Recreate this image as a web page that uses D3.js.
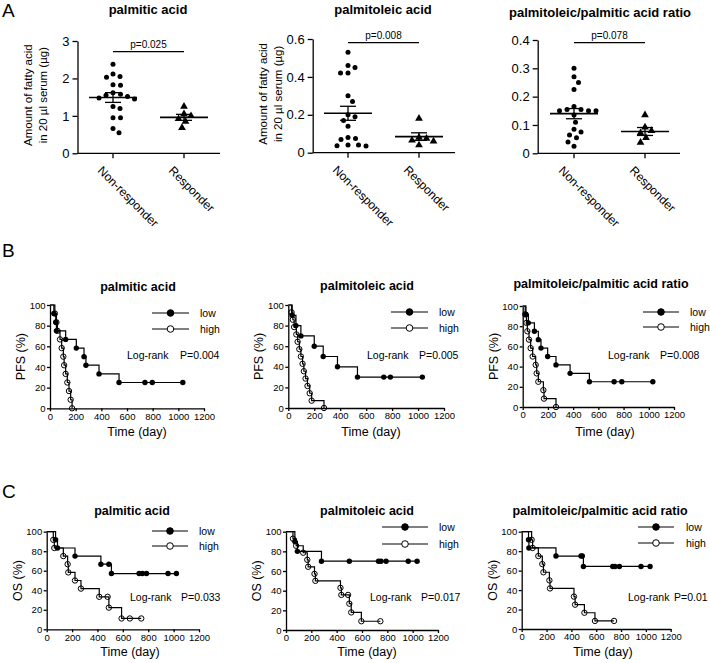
<!DOCTYPE html>
<html>
<head>
<meta charset="utf-8">
<script src="https://cdn.jsdelivr.net/npm/d3@7"></script>
<style>
  body { margin: 0; background: #fff; }
  text { font-family: "Liberation Sans", Arial, sans-serif; fill: #000; }
</style>
</head>
<body>
<div id="fig"></div>
<script>
// ---------- panel A data ----------
const titles = ["palmitic acid", "palmitoleic acid", "palmitoleic/palmitic acid ratio"];
const groups = ["Non-responder", "Responder"];
const nonResponder = [
  [2.38, 2.12, 2.05, 2.03, 1.83, 1.82, 1.62, 1.58, 1.55, 1.52, 1.48, 1.45, 1.25, 1.2, 0.95, 0.95, 0.66, 0.55],
  [0.53, 0.46, 0.45, 0.42, 0.42, 0.30, 0.27, 0.20, 0.19, 0.17, 0.14, 0.08, 0.075, 0.07, 0.04, 0.037, 0.035, 0.04],
  [0.30, 0.27, 0.25, 0.225, 0.165, 0.155, 0.155, 0.15, 0.15, 0.15, 0.135, 0.11, 0.085, 0.075, 0.065, 0.055, 0.04, 0.025]
];
const responder = [
  [1.25, 1.05, 1.0, 0.92, 0.85, 0.68],
  [0.18, 0.08, 0.075, 0.065, 0.06, 0.04],
  [0.135, 0.092, 0.08, 0.072, 0.055, 0.038]
];
const groupMean = [[1.49, 0.96], [0.208, 0.085], [0.14, 0.077]];
const groupSem = [[0.13, 0.08], [0.037, 0.02], [0.018, 0.014]];
const pText = ["p=0.025", "p=0.008", "p=0.078"];
const yMaxA = [3, 0.6, 0.4];
const yTicksA = [[0, 1, 2, 3], [0, 0.2, 0.4, 0.6], [0, 0.1, 0.2, 0.3, 0.4]];

// ---------- panels B / C data: [day, % surviving] ----------
const timeTicks = [0, 200, 400, 600, 800, 1000, 1200];
const pctTicks = [0, 20, 40, 60, 80, 100];
const pfsLow = [
  [[0,100],[30,91.7],[45,83.3],[50,75],[122,66.7],[205,58.3],[265,50],[280,41.7],[382,33.3],[538,25],[740,25],[797,25],[1035,25]],
  [[0,100],[30,90],[59,80],[97,70],[200,60],[269,50],[379,40],[533,30],[736,30],[787,30],[1033,30]],
  [[0,100],[26,91.7],[45,83.3],[93,75],[124,66.7],[145,58.3],[198,50],[264,41.7],[376,33.3],[529,25],[725,25],[786,25],[1032,25]]
];
const pfsHigh = [
  [[0,100],[38,91.7],[50,83.3],[58,75],[78,66.7],[91,58.3],[104,50],[110,41.7],[122,33.3],[135,25],[148,16.7],[161,8.3],[172,0]],
  [[0,100],[25,92.9],[35,85.7],[45,78.6],[62,71.4],[72,64.3],[85,57.1],[97,50],[110,42.9],[120,35.7],[133,28.6],[148,21.4],[165,14.3],[180,7.1],[275,0]],
  [[0,100],[20,91.7],[30,83.3],[37,75],[50,66.7],[63,58.3],[79,50],[103,41.7],[111,33.3],[124,25],[164,16.7],[169,8.3],[264,0]]
];
const osLow = [
  [[0,100],[70,91.7],[85,83.3],[223,75],[427,66.7],[490,66.7],[510,57.1],[728,57.1],[754,57.1],[786,57.1],[956,57.1],[1022,57.1]],
  [[0,100],[70,90],[90,80],[280,70],[500,70],[730,70],[750,70],[790,70],[965,70],[1035,70]],
  [[0,100],[55,91.7],[58,83.3],[276,75],[478,75],[488,75],[497,64.3],[733,64.3],[752,64.3],[787,64.3],[961,64.3],[1034,64.3]]
];
const osHigh = [
  [[0,100],[52,91.7],[60,83.3],[131,75],[165,66.7],[170,58.3],[223,50],[270,41.7],[414,33.3],[480,33.3],[490,22.2],[590,11.1],[655,11.1],[745,11.1]],
  [[0,100],[55,92.9],[80,85.7],[136,78.6],[168,71.4],[175,64.3],[225,57.1],[232,50],[430,42.9],[437,35.7],[490,35.7],[500,26.8],[515,17.9],[595,8.9],[745,8.9]],
  [[0,100],[80,91.7],[88,83.3],[134,75],[166,66.7],[175,58.3],[223,50],[228,41.7],[421,33.3],[430,25],[505,16.7],[590,8.3],[744,8.3]]
];
const pfsP = ["P=0.004", "P=0.005", "P=0.008"];
const osP = ["P=0.033", "P=0.017", "P=0.01"];
const legendLabels = ["low", "high"];

// ---------- layout ----------
const scatterLayout = [
  { ax: 77.5, y0: 153.3, y1: 41, c1: 113, c2: 184, xEnd: 220, tx: 148, ty: 14, barY: 51.7 },
  { ax: 312.7, y0: 152.7, y1: 39, c1: 348, c2: 419, xEnd: 455, tx: 383, ty: 14, barY: 42.7 },
  { ax: 537.7, y0: 153.3, y1: 40, c1: 574, c2: 645, xEnd: 680, tx: 600, ty: 17, barY: 42.7 }
];
const pfsLayout = [
  { ax: 50, y0: 408.3, y100: 305, x1200: 204, tx: 138, ty: 291, lx1: 152, lx2: 189, rows: [313, 329], lab: 200, lrX: 127, pX: 180, lrY: 359, timeX: 137, timeY: 436 },
  { ax: 288.3, y0: 408, y100: 305, x1200: 444, tx: 367, ty: 290, lx1: 391, lx2: 428, rows: [312, 328], lab: 439, lrX: 367, pX: 419, lrY: 359, timeX: 371, timeY: 436 },
  { ax: 522.7, y0: 407, y100: 306, x1200: 674, tx: 601, ty: 288, lx1: 643, lx2: 679, rows: [312, 327], lab: 690, lrX: 608, pX: 660, lrY: 359, timeX: 605, timeY: 436 }
];
const osLayout = [
  { ax: 46.7, y0: 629.3, y100: 531.7, x1200: 199, tx: 132, ty: 515, lx1: 152, lx2: 188, rows: [531, 546], lab: 199, lrX: 130, pX: 181, lrY: 601, timeX: 130, timeY: 656 },
  { ax: 286, y0: 630, y100: 531.7, x1200: 438, tx: 367, ty: 515, lx1: 382, lx2: 428, rows: [527, 544], lab: 439, lrX: 370, pX: 421, lrY: 601, timeX: 367, timeY: 656 },
  { ax: 521.7, y0: 629, y100: 531.7, x1200: 670.7, tx: 600, ty: 515, lx1: 638, lx2: 674, rows: [527, 543], lab: 686, lrX: 628, pX: 674, lrY: 601, timeX: 603, timeY: 656 }
];

const svg = d3.select("#fig").append("svg")
  .attr("width", 710).attr("height", 663);

// panel letters
[["A", 17], ["B", 257], ["C", 498]].forEach(([l, y]) => {
  svg.append("text").attr("x", 2).attr("y", y).attr("font-size", 19).text(l);
});

function styleAxis(g, fs) {
  g.selectAll("path, line").attr("stroke", "#000").attr("stroke-width", 1.3);
  g.selectAll("text").attr("font-size", fs).attr("fill", "#000")
    .style("font-family", '"Liberation Sans", Arial, sans-serif');
}

// simple beeswarm offsets so that dots don't overlap
function swarm(values, y, r) {
  const placed = [];
  const out = values.map(() => 0);
  const order = values.map((v, i) => i).sort((a, b) => values[b] - values[a]);
  order.forEach(i => {
    const py = y(values[i]);
    let dx = 0;
    for (let k = 0; k < 200; k++) {
      const cand = (k % 2 ? 1 : -1) * Math.ceil(k / 2) * 0.5;
      const ok = placed.every(p => (p.x - cand) ** 2 + (p.y - py) ** 2 >= (2 * r + 2.2) ** 2);
      if (ok) { dx = cand; break; }
    }
    placed.push({ x: dx, y: py });
    out[i] = dx;
  });
  return out;
}

// ---------- panel A ----------
scatterLayout.forEach((L, i) => {
  const g = svg.append("g");
  const y = d3.scaleLinear().domain([0, yMaxA[i]]).range([L.y0, L.y1]);
  const x = d3.scalePoint().domain(groups).range([L.c1, L.c2]);

  const yAx = g.append("g").attr("transform", `translate(${L.ax},0)`)
    .call(d3.axisLeft(y).tickValues(yTicksA[i]).tickSize(5).tickSizeOuter(0).tickPadding(3).tickFormat(d => d));
  styleAxis(yAx, 13);

  g.append("line").attr("x1", L.ax).attr("x2", L.xEnd).attr("y1", L.y0).attr("y2", L.y0)
    .attr("stroke", "#000").attr("stroke-width", 1.3);
  groups.forEach(c => {
    g.append("line").attr("x1", x(c)).attr("x2", x(c)).attr("y1", L.y0).attr("y2", L.y0 + 5)
      .attr("stroke", "#000").attr("stroke-width", 1.3);
    g.append("text")
      .attr("transform", `translate(${x(c) - 16},${L.y0 + 18}) rotate(45)`)
      .attr("font-size", 12).text(c);
  });

  g.append("text").attr("x", L.tx).attr("y", L.ty).attr("text-anchor", "middle")
    .attr("font-size", 13).attr("font-weight", "bold").text(titles[i]);

  if (i < 2) {
    const cy = (L.y0 + L.y1) / 2 - 2;
    g.append("text").attr("transform", `translate(${L.ax - 46},${cy}) rotate(-90)`)
      .attr("text-anchor", "middle").attr("font-size", 11.5).text("Amount of fatty acid");
    g.append("text").attr("transform", `translate(${L.ax - 31},${cy}) rotate(-90)`)
      .attr("text-anchor", "middle").attr("font-size", 11.5).text("in 20 µl serum (µg)");
  }

  // points
  const r = 2.5;
  const offN = swarm(nonResponder[i], y, r);
  g.selectAll(".nr").data(nonResponder[i]).enter().append("circle")
    .attr("cx", (d, j) => x(groups[0]) + offN[j]).attr("cy", d => y(d)).attr("r", r).attr("fill", "#000");
  const offR = swarm(responder[i], y, r);
  const tri = d3.symbol().type(d3.symbolTriangle).size(26);
  g.selectAll(".rs").data(responder[i]).enter().append("path")
    .attr("d", tri)
    .attr("transform", (d, j) => `translate(${x(groups[1]) + offR[j]},${y(d)})`)
    .attr("fill", "#000");

  // mean +/- SEM
  groups.forEach((c, k) => {
    const m = groupMean[i][k], s = groupSem[i][k], cx = x(c);
    g.append("line").attr("x1", cx - 24).attr("x2", cx + 24).attr("y1", y(m)).attr("y2", y(m))
      .attr("stroke", "#000").attr("stroke-width", 1.6);
    g.append("line").attr("x1", cx).attr("x2", cx).attr("y1", y(m - s)).attr("y2", y(m + s))
      .attr("stroke", "#000").attr("stroke-width", 1.3);
    [m - s, m + s].forEach(v => {
      g.append("line").attr("x1", cx - 8).attr("x2", cx + 8).attr("y1", y(v)).attr("y2", y(v))
        .attr("stroke", "#000").attr("stroke-width", 1.3);
    });
  });

  // significance bar
  g.append("line").attr("x1", L.c1).attr("x2", L.c2).attr("y1", L.barY).attr("y2", L.barY)
    .attr("stroke", "#000").attr("stroke-width", 1.2);
  g.append("text").attr("x", (L.c1 + L.c2) / 2).attr("y", L.barY - 4).attr("text-anchor", "middle")
    .attr("font-size", 10).text(pText[i]);
});

// ---------- panels B and C ----------
function kmPanel(L, low, high, yLabel, pLabel, title) {
  const g = svg.append("g");
  const x = d3.scaleLinear().domain([0, 1200]).range([L.ax, L.x1200]);
  const y = d3.scaleLinear().domain([0, 100]).range([L.y0, L.y100]);

  const xAx = g.append("g").attr("transform", `translate(0,${L.y0})`)
    .call(d3.axisBottom(x).tickValues(timeTicks).tickSize(3).tickSizeOuter(0).tickPadding(1.5).tickFormat(d => d));
  styleAxis(xAx, 9.5);
  const yAx = g.append("g").attr("transform", `translate(${L.ax},0)`)
    .call(d3.axisLeft(y).tickValues(pctTicks).tickSize(3).tickSizeOuter(0).tickPadding(1.5).tickFormat(d => d));
  styleAxis(yAx, 9.5);

  g.append("text").attr("x", L.tx).attr("y", L.ty).attr("text-anchor", "middle")
    .attr("font-size", 12.5).attr("font-weight", "bold").text(title);
  g.append("text").attr("x", L.timeX).attr("y", L.timeY).attr("text-anchor", "middle")
    .attr("font-size", 12.5).text("Time (day)");
  g.append("text").attr("transform", `translate(${L.ax - 25},${(L.y0 + L.y100) / 2}) rotate(-90)`)
    .attr("text-anchor", "middle").attr("font-size", 12.5).text(yLabel);

  const line = d3.line().x(d => x(d[0])).y(d => y(d[1])).curve(d3.curveStepAfter);
  [high, low].forEach(data => {
    g.append("path").datum(data).attr("d", line)
      .attr("fill", "none").attr("stroke", "#000").attr("stroke-width", 1.2);
  });
  g.selectAll(".hi").data(high.slice(1)).enter().append("circle")
    .attr("cx", d => x(d[0])).attr("cy", d => y(d[1])).attr("r", 2.7)
    .attr("fill", "none").attr("stroke", "#000").attr("stroke-width", 1);
  g.selectAll(".lo").data(low.slice(1)).enter().append("circle")
    .attr("cx", d => x(d[0])).attr("cy", d => y(d[1])).attr("r", 2.7).attr("fill", "#000");

  // legend
  legendLabels.forEach((lab, k) => {
    const ry = L.rows[k], mx = (L.lx1 + L.lx2) / 2;
    g.append("line").attr("x1", L.lx1).attr("x2", L.lx2).attr("y1", ry).attr("y2", ry)
      .attr("stroke", "#000").attr("stroke-width", 1.2);
    g.append("circle").attr("cx", mx).attr("cy", ry).attr("r", 3.3)
      .attr("fill", k === 0 ? "#000" : "#fff").attr("stroke", "#000").attr("stroke-width", 1);
    g.append("text").attr("x", L.lab).attr("y", ry + 4).attr("font-size", 10.5).text(lab);
  });
  g.append("text").attr("x", L.lrX).attr("y", L.lrY).attr("font-size", 10.5).text("Log-rank");
  g.append("text").attr("x", L.pX).attr("y", L.lrY).attr("font-size", 10.5).text(pLabel);
}

pfsLayout.forEach((L, i) => kmPanel(L, pfsLow[i], pfsHigh[i], "PFS (%)", pfsP[i], titles[i]));
osLayout.forEach((L, i) => kmPanel(L, osLow[i], osHigh[i], "OS (%)", osP[i], titles[i]));
</script>
</body>
</html>
